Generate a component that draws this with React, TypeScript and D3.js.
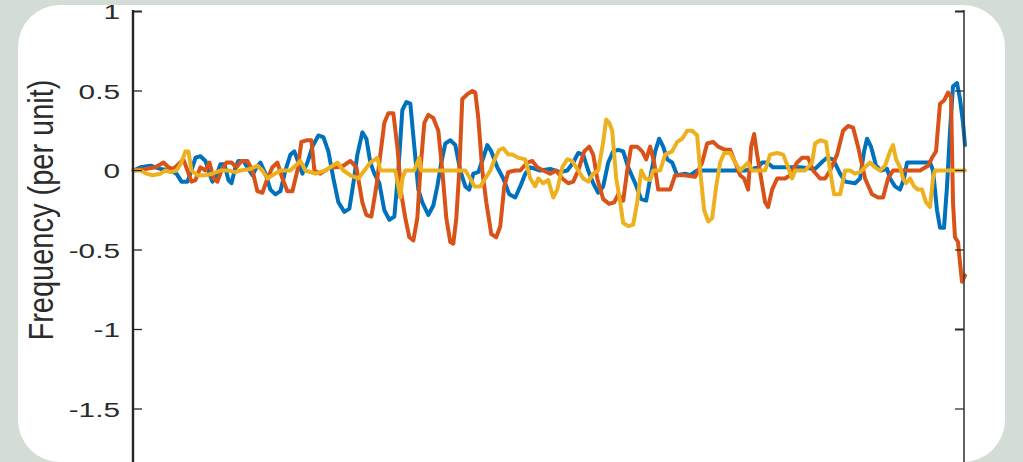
import React from "react";
import * as d3 from "d3";

// sample index vs frequency deviation (per unit)
const blueSeries: [number, number][] = [
  [0,0],[7,0.02],[17,0.03],[27,0.01],[37,0],[43,-0.02],[48,-0.07],[54,-0.07],[58,0],[62,0.08],[67,0.09],[72,0.06],[76,-0.02],[79,-0.07],[83,-0.03],[87,0.04],[91,0.04],[95,-0.06],[98,-0.08],[102,0.02],[105,0.06],[110,0.06],[114,0.02],[119,-0.03],[123,0.02],[127,0.05],[132,-0.02],[137,-0.12],[142,-0.15],[147,-0.13],[152,0],[157,0.1],[161,0.12],[165,0.05],[169,-0.02],[174,0.05],[179,0.15],[185,0.22],[190,0.21],[195,0.12],[200,-0.05],[205,-0.2],[211,-0.26],[216,-0.24],[220,-0.08],[224,0.1],[229,0.24],[233,0.2],[237,0.05],[241,-0.02],[246,-0.08],[251,-0.25],[256,-0.31],[261,-0.29],[265,0],[269,0.38],[273,0.43],[277,0.42],[281,0.15],[285,-0.12],[289,-0.2],[295,-0.28],[300,-0.22],[304,-0.1],[308,0.05],[312,0.17],[317,0.19],[322,0.16],[327,0],[332,-0.1],[336,-0.12],[340,-0.02],[345,-0.01],[350,0.08],[354,0.16],[358,0.12],[364,0.02],[370,-0.05],[376,-0.15],[382,-0.17],[387,-0.1],[392,-0.02],[397,0.02],[407,0],[417,0.01],[427,-0.01],[434,0],[440,0.05],[445,0.11],[450,0.1],[455,0],[460,-0.08],[465,-0.14],[470,-0.1],[475,0.05],[480,0.12],[485,0.13],[490,0.12],[495,0.02],[502,-0.08],[508,-0.18],[513,-0.19],[517,-0.05],[522,0.12],[526,0.2],[530,0.15],[534,0.07],[539,0.05],[544,-0.03],[552,-0.02],[557,-0.03],[564,0],[587,0],[612,0],[625,0.02],[629,0.05],[634,0.05],[640,0.02],[647,0.02],[667,0.02],[682,0.01],[690,0.06],[694,0.08],[700,0.07],[707,-0.02],[712,-0.07],[722,-0.08],[727,-0.05],[731,0.12],[734,0.2],[738,0.15],[743,0.03],[748,0],[754,0.01],[757,-0.05],[762,-0.1],[767,-0.12],[771,-0.05],[774,0.05],[779,0.05],[787,0.05],[797,0.05],[800,0],[804,-0.25],[807,-0.36],[811,-0.36],[814,-0.1],[817,0.25],[820,0.53],[824,0.55],[827,0.45],[830,0.3],[832,0.16]
];

const orangeSeries: [number, number][] = [
  [0,0],[12,0.01],[22,0.02],[30,0.05],[35,0.02],[40,0.01],[45,0.04],[50,0.07],[54,0],[58,-0.07],[62,-0.06],[67,0.02],[72,0],[76,0.05],[80,-0.05],[84,-0.07],[88,0],[93,0.05],[98,0.05],[103,0.02],[108,0.06],[114,0.06],[119,0],[124,-0.13],[129,-0.14],[134,-0.05],[139,0.02],[144,0.05],[149,-0.05],[154,-0.13],[159,-0.13],[164,0],[168,0.18],[173,0.19],[178,0.19],[181,0],[187,-0.02],[197,0.02],[204,0.02],[210,0.03],[217,0.06],[223,0.02],[229,-0.2],[233,-0.28],[238,-0.29],[243,-0.1],[247,0.1],[251,0.3],[255,0.36],[260,0.36],[264,0.15],[268,-0.15],[272,-0.3],[276,-0.42],[280,-0.44],[284,-0.3],[287,0],[291,0.3],[295,0.35],[300,0.33],[305,0.25],[309,0],[313,-0.3],[317,-0.45],[320,-0.46],[323,-0.3],[326,0],[329,0.45],[334,0.48],[339,0.5],[342,0.49],[345,0.33],[349,0],[353,-0.2],[358,-0.4],[363,-0.42],[367,-0.35],[371,-0.1],[375,-0.01],[382,0],[387,0],[394,0.05],[399,0.06],[404,0.02],[410,0],[417,-0.02],[423,0],[429,-0.05],[435,-0.08],[440,-0.07],[445,0],[451,0.12],[456,0.15],[460,0.1],[464,-0.05],[470,-0.18],[476,-0.21],[481,-0.2],[485,-0.15],[490,-0.19],[494,0],[498,0.15],[504,0.15],[509,0.12],[513,0.07],[517,0.15],[521,0.05],[525,-0.12],[532,-0.12],[537,-0.12],[542,-0.03],[551,-0.03],[562,-0.04],[569,0.05],[574,0.17],[580,0.18],[585,0.15],[592,0.13],[597,0.13],[602,0.05],[607,-0.03],[611,-0.05],[615,-0.12],[618,0.15],[621,0.23],[624,0.1],[628,-0.05],[632,-0.2],[635,-0.23],[639,-0.12],[644,-0.05],[652,-0.05],[657,-0.03],[664,0.05],[669,0.08],[675,0.08],[680,0],[687,-0.05],[692,-0.05],[697,0],[704,0.1],[710,0.25],[715,0.28],[720,0.27],[725,0.15],[732,-0.05],[739,-0.15],[745,-0.17],[750,-0.17],[755,-0.05],[760,0],[767,0],[777,0],[787,0],[795,0.03],[799,0.08],[803,0.12],[807,0.42],[811,0.44],[815,0.49],[818,0.47],[820,-0.2],[822,-0.42],[825,-0.45],[827,-0.58],[829,-0.7],[832,-0.66]
];

const yellowSeries: [number, number][] = [
  [0,0],[7,0],[13,-0.02],[19,-0.03],[27,-0.02],[32,0],[37,-0.01],[43,0],[48,0.05],[52,0.12],[55,0.12],[58,0],[64,-0.03],[72,-0.03],[79,-0.02],[87,0],[95,0],[102,-0.01],[107,0],[117,0.01],[124,0.03],[129,0],[134,-0.05],[139,-0.03],[147,0],[157,0],[167,0.06],[172,0],[182,-0.02],[192,0],[204,0.05],[210,0],[217,-0.03],[225,-0.05],[231,0],[237,0.05],[244,0.08],[247,0],[252,0],[262,0],[265,-0.1],[267,-0.17],[269,-0.05],[272,0],[281,0],[284,0.05],[286,0.08],[288,0],[307,0],[332,0],[337,-0.05],[341,-0.1],[347,-0.1],[352,-0.05],[357,0],[362,0.08],[366,0.13],[370,0.14],[375,0.1],[379,0.1],[385,0.08],[392,0.07],[397,-0.05],[402,-0.1],[405,-0.05],[410,-0.08],[415,-0.06],[420,-0.17],[424,-0.12],[429,0.02],[434,0.07],[439,0.06],[445,0],[450,-0.05],[455,-0.07],[460,-0.02],[465,0],[470,0.18],[473,0.32],[476,0.3],[479,0.25],[483,-0.05],[487,-0.2],[490,-0.33],[495,-0.35],[500,-0.34],[504,-0.2],[508,0],[512,-0.05],[517,-0.06],[520,0],[527,0],[532,0.1],[539,0.12],[544,0.18],[549,0.2],[554,0.25],[559,0.25],[564,0.22],[567,0],[571,-0.25],[575,-0.32],[579,-0.3],[583,-0.1],[587,0.05],[591,0.11],[597,0.11],[602,0.05],[607,0],[612,0.03],[615,0.05],[619,0],[627,0],[632,0],[637,0.1],[644,0.11],[650,0.1],[655,0.02],[659,-0.05],[662,0],[672,0],[679,0.05],[682,0.17],[687,0.19],[693,0.18],[697,0],[701,-0.15],[707,-0.15],[712,0],[717,0],[722,-0.02],[727,-0.01],[732,0.02],[737,0.05],[742,0.02],[747,0],[752,0.03],[757,0.12],[760,0.16],[763,0.07],[767,0.02],[770,-0.05],[773,-0.08],[777,-0.05],[781,-0.1],[785,-0.12],[789,-0.12],[793,-0.2],[797,-0.23],[800,-0.05],[802,0],[832,0]
];

const yTicks = [1, 0.5, 0, -0.5, -1, -1.5];
const yTickLabels = ["1", "0.5", "0", "-0.5", "-1", "-1.5"];
const seriesColors = ["#0072BD", "#D95319", "#EDB120"];
const yLabel = "Frequency (per unit)";

export default function App() {
  const W = 1023, H = 462;
  const left = 133, right = 964;
  const x = d3.scaleLinear().domain([0, 832]).range([133.5, 965]);
  const y = d3.scaleLinear().domain([0, 1]).range([170.5, 11.5]);
  const line = d3.line<[number, number]>().x(d => x(d[0])).y(d => y(d[1]));
  const all = [blueSeries, orangeSeries, yellowSeries];
  const font = "'Liberation Sans', Arial, Helvetica, sans-serif";
  return (
    <svg width={W} height={H} style={{ position: "absolute", left: 0, top: 0 }}>
      <rect x={0} y={0} width={W} height={H} fill="#d3ddd5" />
      <rect x={18} y={5} width={987} height={457} rx={42} ry={42} fill="#ffffff" />
      {all.map((s, i) => (
        <path key={i} d={line(s) || ""} fill="none" stroke={seriesColors[i]} strokeWidth={4} strokeLinejoin="round" strokeLinecap="round" />
      ))}
      {/* left axis */}
      <line x1={left} x2={left} y1={y(1) - 1.5} y2={H + 5} stroke="#262626" strokeWidth={2.4} />
      {yTicks.map((t, i) => (
        <g key={"l" + i}>
          <line x1={left} x2={left + 9} y1={y(t)} y2={y(t)} stroke="#262626" strokeWidth={t === 1 ? 2 : 1.3} />
          <g transform={`translate(120,${y(t) + 7.5}) scale(1.42,1)`}>
            <text x={0} y={0} textAnchor="end" fontFamily={font} fontSize={21} fill="#2b2b2b">{yTickLabels[i]}</text>
          </g>
        </g>
      ))}
      {/* right axis */}
      <line x1={right} x2={right} y1={y(1) - 1.5} y2={H + 5} stroke="#3a3a3a" strokeWidth={1.6} />
      {yTicks.map((t, i) => (
        <line key={"r" + i} x1={right} x2={right - 9} y1={y(t)} y2={y(t)} stroke="#262626" strokeWidth={t === 1 || t === -1 ? 2 : 1.2} />
      ))}
      <g transform="translate(53,210) scale(1.2,1) rotate(-90)">
        <text x={0} y={0} textAnchor="middle" fontFamily={font} fontSize={29} fill="#2b2b2b">{yLabel}</text>
      </g>
    </svg>
  );
}
